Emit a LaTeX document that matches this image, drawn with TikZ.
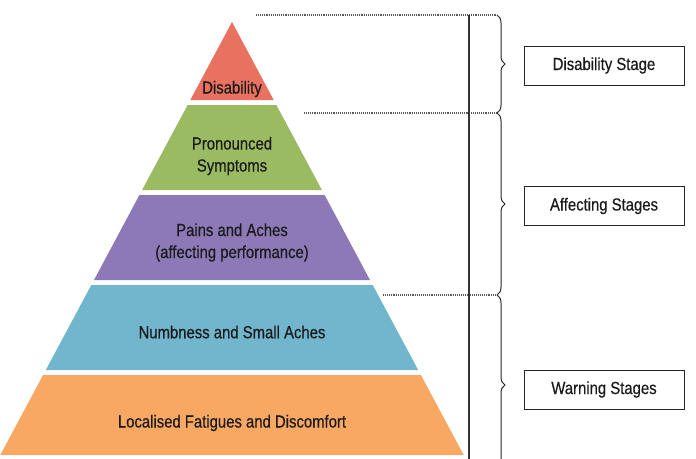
\documentclass[tikz,border=0pt]{standalone}
\usepackage{fontspec}
\setmainfont{Liberation Sans}[FakeStretch=0.85,FakeBold=0.4]
\usetikzlibrary{decorations.pathreplacing}
\definecolor{cred}{HTML}{E8715F}
\definecolor{cgreen}{HTML}{9BBB62}
\definecolor{cpurple}{HTML}{8E79B8}
\definecolor{cblue}{HTML}{71B6CD}
\definecolor{corange}{HTML}{F9A864}
\definecolor{txt}{HTML}{1A1A1A}
\begin{document}
\begin{tikzpicture}[x=1pt,y=-1pt,
  lbl/.style={font=\fontsize{17.5}{22}\selectfont, text=txt, align=center, inner sep=0pt},
  stagebox/.style={draw=black!85, line width=1pt, minimum width=160pt, minimum height=39pt, font=\fontsize{17.5}{22}\selectfont, text=txt, inner sep=0pt},
  guide/.style={draw=black!65, line width=1.2pt, dash pattern=on 1pt off 0.9pt},
  bracestyle/.style={draw=black!85, line width=1pt, decorate, decoration={brace, amplitude=8pt}}]
\useasboundingbox (0,0) rectangle (696,458);
\clip (0,0) rectangle (696,458);
% pyramid layers
\fill[cred] (232,22) -- (273.7,100) -- (190.3,100) -- cycle;
\fill[cgreen] (187.6,105) -- (276.4,105) -- (321.9,190) -- (142.1,190) -- cycle;
\fill[cpurple] (139.4,195) -- (324.6,195) -- (370,280) -- (94,280) -- cycle;
\fill[cblue] (91.3,285) -- (372.7,285) -- (418.2,370) -- (45.8,370) -- cycle;
\fill[corange] (43.1,375) -- (420.9,375) -- (463.7,455) -- (0.3,455) -- cycle;
% labels
\node[lbl] (l1) at (232,89) {Disability};
\node[lbl] (l2) at (232,156) {Pronounced\\Symptoms};
\node[lbl] (l3) at (232,242.5) {Pains and Aches\\(affecting performance)};
\node[lbl] (l4) at (232,332) {Numbness and Small Aches};
\node[lbl] (l5) at (232,423) {Localised Fatigues and Discomfort};
% guides
\coordinate (g1a) at (256,15);
\coordinate (g1b) at (497,15);
\coordinate (g2a) at (304,113);
\coordinate (g2b) at (497,113);
\coordinate (g3a) at (383,295);
\coordinate (g3b) at (497,295);
\coordinate (g4b) at (497,475);
\path[guide] (g1a) -- (g1b);
\path[guide] (g2a) -- (g2b);
\path[guide] (g3a) -- (g3b);
\coordinate (vtop) at (469,15);
\coordinate (vbot) at (469,460);
\draw[black!80, line width=1.1pt] (vtop) -- (vbot);
% braces
\draw[bracestyle] (g1b) -- (g2b);
\draw[bracestyle] (g2b) -- (g3b);
\draw[bracestyle] (g3b) -- (g4b);
% stage boxes
\node[stagebox] (s1) at (604,65.5) {Disability Stage};
\node[stagebox] (s2) at (604,206) {Affecting Stages};
\node[stagebox] (s3) at (604,389.5) {Warning Stages};
\end{tikzpicture}
\end{document}
